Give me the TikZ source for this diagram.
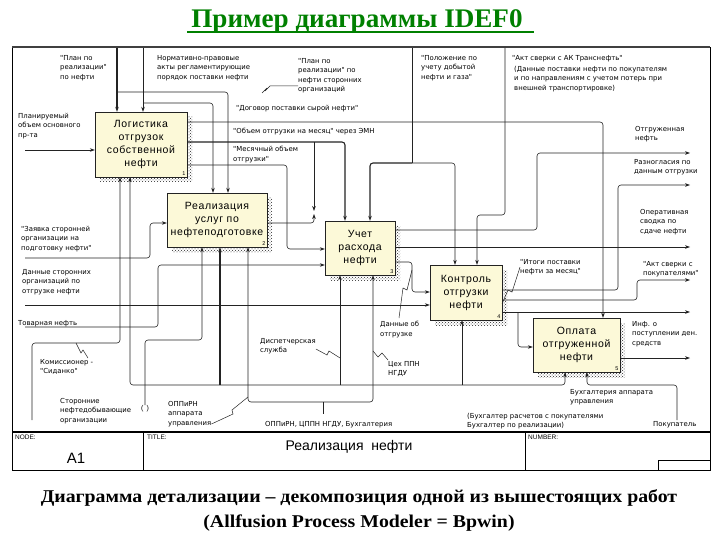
\documentclass[tikz,border=0pt]{standalone}
\usepackage{fontspec}
\setmainfont{Liberation Serif}
\setsansfont{Liberation Sans}
\newfontfamily\lblfamily{DejaVu Sans}
\newfontfamily\actfamily[LetterSpace=6]{Liberation Sans}
\usetikzlibrary{arrows.meta,patterns,shadows}
\definecolor{actfill}{RGB}{252,249,216}
\definecolor{ttlgreen}{RGB}{0,128,0}
\definecolor{wire}{RGB}{35,35,35}

\begin{document}
\begin{tikzpicture}[x=1pt,y=-1pt,>={Stealth[length=5pt,width=3.6pt]},
 act/.style={draw=wire,fill=actfill,inner sep=1pt,align=center,
  font=\actfamily\fontsize{10.5}{13}\selectfont,
  general shadow={shadow xshift=5pt,shadow yshift=-5pt,pattern=crosshatch dots,pattern color=black!85}},
 num/.style={font=\sffamily\fontsize{5.5}{6}\selectfont,anchor=south east,inner sep=1.5pt},
 wire/.style={draw=wire,line width=0.6pt,rounded corners=3pt},
 flow/.style={wire,->},
 heavy/.style={line width=1.1pt},
 lbl/.style={font=\lblfamily\fontsize{6.9}{9.5}\selectfont,align=left,anchor=north west,inner sep=0pt},
 squig/.style={draw=wire,line width=0.5pt},
 blk/.style={font=\sffamily\fontsize{6.5}{8}\selectfont,anchor=north west,inner sep=0pt}]
\useasboundingbox (0,0) rectangle (720,540);
% heading and caption
\node[font=\bfseries\fontsize{24}{26}\selectfont,text=ttlgreen,xscale=1.13,yscale=1.12,anchor=base] (ttl) at (357,28) {Пример диаграммы IDEF0};
\draw[ttlgreen,line width=1.4pt] ([yshift=-4pt]ttl.base west) -- ([yshift=-4pt,xshift=7pt]ttl.base east);
\node[font=\bfseries\fontsize{18}{25}\selectfont,align=center,xscale=1.1,anchor=north] (cap) at (359,486)
 {Диаграмма детализации – декомпозиция одной из вышестоящих работ\\(Allfusion Process Modeler = Bpwin)};
% frame and title block
\draw[line width=0.6pt] (12,47) rectangle (710,470);
\draw[line width=1.8pt,black!75] (12,47) -- (710,47);
\draw[line width=1.4pt] (12,432) -- (710,432);
\draw[line width=0.6pt] (143,432) -- (143,470) (525,432) -- (525,470) (658,470) -- (658,460) -- (710,460);
\node[blk] (nodeL) at (15,435) {NODE:};
\node[blk] (titleL) at (147,435) {TITLE:};
\node[blk] (numL) at (528,435) {NUMBER:};
\node[font=\sffamily\fontsize{15}{16}\selectfont] (a1) at (76,458) {A1};
\node[font=\sffamily\fontsize{14}{16}\selectfont] (ttlname) at (349,447) {Реализация\ \ нефти};
% activities
\node[act,minimum width=92pt,minimum height=65pt] (b1) at (141,144.5) {Логистика\\отгрузок\\собственной\\нефти};
\node[act,minimum width=100pt,minimum height=54pt] (b2) at (217,220) {Реализация\\услуг по\\нефтеподготовке};
\node[act,minimum width=70pt,minimum height=54pt] (b3) at (360,248) {Учет\\расхода\\нефти};
\node[act,minimum width=72pt,minimum height=55pt] (b4) at (466,292.5) {Контроль\\отгрузки\\нефти};
\node[act,minimum width=87pt,minimum height=54pt] (b5) at (576.5,345) {Оплата\\отгруженной\\нефти};
\foreach \b/\n in {b1/1,b2/2,b3/3,b4/4,b5/5} \node[num] at (\b.south east) {\n};
% free ends on the border
\coordinate (cPlan) at (117,48);
\coordinate (cNorm) at (143,48);
\coordinate (cPol) at (412,48);
\coordinate (cAktTN) at (505,48);
\coordinate (iPlanObj) at (25,150);
\coordinate (iZayav) at (25,258);
\coordinate (iDannye) at (25,305);
\coordinate (iTovar) at (25,327);
\coordinate (oOtgr) at (690,153);
\coordinate (oRazn) at (690,185);
\coordinate (oOper) at (690,247);
\coordinate (oAktPok) at (690,280);
\coordinate (oItogi) at (690,312);
\coordinate (oInf) at (690,358);
\coordinate (mKomis) at (32,420);
\coordinate (mStor) at (145,405);
\coordinate (mPokup) at (677,420);
% controls
\draw[flow,heavy] (cPlan) -- (b1.north -| cPlan);
\coordinate (jPlan) at (117,92);
\draw[flow] (jPlan) -- (228,92) -- (b2.north -| 228,0);
\draw[flow] (cNorm) -- (b1.north -| cNorm);
\coordinate (jNorm) at (143,103);
\draw[flow] (jNorm) -- (213,103) -- (b2.north -| 213,0);
\coordinate (jPol) at (412,163);
\draw[wire] (cPol) -- (jPol);
\draw[flow,heavy] (jPol) -- (370,163) -- (b3.north -| 370,0);
\draw[flow] (jPol) -- (455,163) -- (b4.north -| 455,0);
\draw[flow] (cAktTN) -- (505,215) -- (477,215) -- (b4.north -| 477,0);
% box 1 outputs
\draw[flow] (b1.east |- 0,122) -- (603,122) -- (b5.north -| 603,0);
\draw[flow,heavy] (b1.east |- 0,142) -- (345,142) -- (b3.north -| 345,0);
\coordinate (jVol) at (314,142);
\draw[flow] (jVol) -- (314,211);
\draw[flow] (b1.east |- 0,165) -- (287,165) -- (287,249) -- (b3.west |- 0,249);
\draw[flow] (b2.east |- 0,223) -- (314,223) -- (314,214);
% inputs
\draw[flow] (iPlanObj) -- (b1.west |- iPlanObj);
\draw[flow] (iZayav) -- (150,258) -- (150,223) -- (b2.west |- 0,223);
\draw[flow] (iDannye) -- (b4.west |- iDannye);
\draw[flow] (iTovar) -- (158,327) -- (158,265) -- (b3.west |- 0,265);
% box 3 and box 4 outputs
\draw[flow] (b3.east |- 0,262) -- (412,262) -- (412,292) -- (b4.west |- 0,292);
\draw[flow] (b3.east |- 0,230) -- (537,230) -- (537,153) -- (oOtgr);
\draw[flow] (b3.east |- 0,247) -- (oOper);
\draw[flow] (b4.east |- 0,290) -- (618,290) -- (618,185) -- (oRazn);
\draw[flow] (b4.east |- 0,300) -- (637,300) -- (637,280) -- (oAktPok);
\draw[flow] (b4.east |- 0,312) -- (oItogi);
\coordinate (jItogi) at (518,312);
\draw[flow] (jItogi) -- (518,347) -- (b5.west |- 0,347);
\draw[flow] (b5.east |- oInf) -- (oInf);
% mechanisms
\draw[flow] (mKomis) -- (32,343) -- (120,343) -- (b1.south -| 120,0);
\draw[flow] (mStor) -- (145,340) -- (202,340) -- (b2.south -| 202,0);
\draw[wire,<->] (b1.south -| 130,0) -- (130,385) -- (565,385) -- (b5.south -| 565,0);
\draw[flow,heavy] (220,385) -- (b2.south -| 220,0);
\foreach \mx/\bx in {340/b3,462/b4} \draw[flow] (\mx,385) -- (\bx.south -| \mx,0);
\draw[wire,<->] (b2.south -| 248,0) -- (248,402) -- (373,402) -- (b3.south -| 373,0);
\draw[wire] (323,402) -- (323,414);
\draw[flow] (mPokup) -- (677,385) -- (587,385) -- (b5.south -| 587,0);
% labels
\node[lbl] (lPlan) at (60,55) {"План по\\реализации"\\по нефти};
\node[lbl] (lNorm) at (157,55) {Нормативно-правовые\\акты регламентирующие\\порядок поставки нефти};
\node[lbl] (lPlanSt) at (298,58) {"План по\\реализации" по\\нефти сторонних\\организаций};
\node[lbl] (lPol) at (421,55) {"Положение по\\учету добытой\\нефти и газа"};
\node[lbl] (lAktTN) at (512,55) {"Акт сверки с АК Транснефть"};
\node[lbl] (lAktTN2) at (514,66) {(Данные поставки нефти по покупателям\\и по направлениям с учетом потерь при\\внешней транспортировке)};
\node[lbl] (lDog) at (236,105) {"Договор поставки сырой нефти"};
\node[lbl] (lVol) at (233,128) {"Объем отгрузки на месяц" через ЭМН};
\node[lbl] (lMes) at (233,146) {"Месячный объем\\отгрузки"};
\node[lbl] (lPlanObj) at (18,113) {Планируемый\\объем основного\\пр-та};
\node[lbl] (lZayav) at (21,226) {"Заявка сторонней\\организации на\\подготовку нефти"};
\node[lbl] (lDannye) at (22,269) {Данные сторонних\\организаций по\\отгрузке нефти};
\node[lbl] (lTovar) at (18,320) {Товарная нефть};
\node[lbl] (lKomis) at (40,359) {Комиссионер -\\"Сиданко"};
\node[lbl] (lStor) at (60,398) {Сторонние\\нефтедобывающие\\организации};
\node[font=\sffamily\fontsize{7}{8}\selectfont,inner sep=0pt] (tun) at (145,409) {(\,\ )};
\node[lbl] (lOppAp) at (168,401) {ОППиРН\\аппарата\\управления};
\node[lbl] (lDisp) at (260,338) {Диспетчерская\\служба};
\node[lbl] (lDanOtg) at (380,321) {Данные об\\отгрузке};
\node[lbl] (lCeh) at (388,361) {Цех ППН\\НГДУ};
\node[lbl] (lOppAll) at (265,421) {ОППиРН, ЦППН НГДУ, Бухгалтерия};
\node[lbl] (lBuh) at (467,413) {(Бухгалтер расчетов с покупателями\\Бухгалтер по реализации)};
\node[lbl] (lBuhAp) at (570,389) {Бухгалтерия аппарата\\управления};
\node[lbl] (lPokup) at (653,421) {Покупатель};
\node[lbl] (lItogi) at (520,259) {"Итоги поставки\\нефти за месяц"};
\node[lbl] (lOper) at (640,209) {Оперативная\\сводка по\\сдаче нефти};
\node[lbl] (lAktPok) at (643,261) {"Акт сверки с\\покупателями"};
\node[lbl] (lOtgr) at (635,126) {Отгруженная\\нефть};
\node[lbl] (lRazn) at (634,159) {Разногласия по\\данным отгрузки};
\node[lbl] (lInf) at (632,321) {Инф. о\\поступлении ден.\\средств};
% squiggles from labels to arrows
\draw[squig] (262,93) -- (267,88) -- (265,91) -- (270,86) -- (lPlanSt.west |- 0,86);
\draw[squig] (76,343) -- (81,353) -- (83,350) -- (88,358);
\draw[squig] (lDisp.east |- 0,349) -- (327,355) -- (329,351) -- (340,358);
\draw[squig] (373,351) -- (378,357) -- (382,353) -- (388,360);
\draw[squig] (412,270) -- (407,290) -- (403,288) -- (399,318);
\draw[squig] (lItogi.west) -- (512,292) -- (508,290) -- (502,304);
\draw[squig] (lOppAp.east |- 0,424) -- (233,414) -- (232,410) -- (248,397);
\end{tikzpicture}
\end{document}
